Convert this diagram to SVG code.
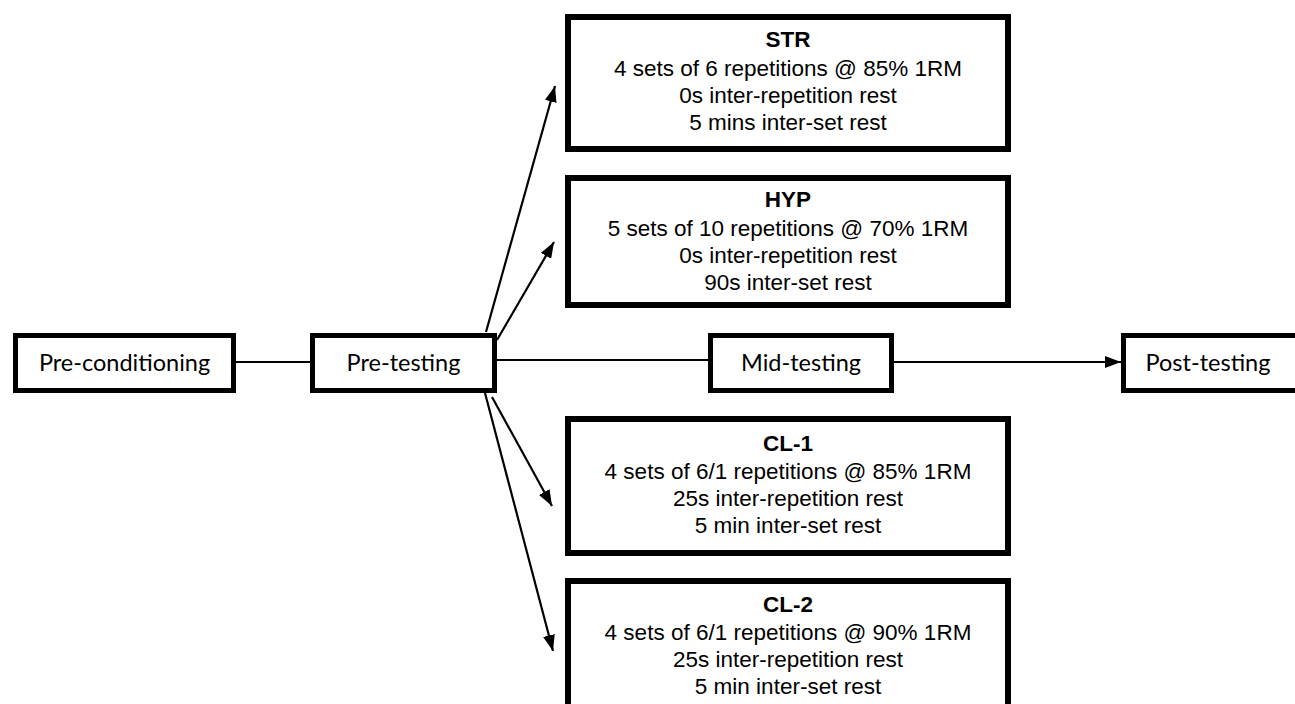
<svg xmlns="http://www.w3.org/2000/svg" width="1295" height="704" viewBox="0 0 1295 704">
<style>
.sbox{fill:#fff;stroke:#000;stroke-width:5}
.bbox{fill:#fff;stroke:#000;stroke-width:6}
.slab{font-family:Lato,"Open Sans",sans-serif;font-size:23.5px;fill:#000;text-anchor:middle}
.btxt{font-family:"Liberation Sans",Arial,sans-serif;font-size:22.5px;fill:#000;text-anchor:middle}
.bt{font-weight:bold}
.ln{stroke:#000;stroke-width:2.2;fill:none}
</style>
<defs>
<marker id="ah" viewBox="0 0 16 12" refX="16" refY="6" markerWidth="16" markerHeight="12" markerUnits="userSpaceOnUse" orient="auto">
<path d="M0,0 L16,6 L0,12 Z" fill="#000"/>
</marker>
</defs>
<rect width="1295" height="704" fill="#fff"/>
<g id="connectors">
<line class="ln" x1="236" y1="362" x2="310" y2="362"/>
<line class="ln" x1="497" y1="360" x2="708" y2="360"/>
<line class="ln" x1="894" y1="362" x2="1121" y2="362" marker-end="url(#ah)"/>
<line class="ln" x1="486" y1="332" x2="555" y2="86" marker-end="url(#ah)"/>
<line class="ln" x1="497" y1="340" x2="554" y2="242" marker-end="url(#ah)"/>
<line class="ln" x1="492" y1="397" x2="552" y2="506" marker-end="url(#ah)"/>
<line class="ln" x1="485" y1="393" x2="553" y2="651" marker-end="url(#ah)"/>
</g>
<g id="pre-conditioning">
<rect class="sbox" x="15.5" y="335.5" width="218" height="55"/>
<text class="slab" x="124.5" y="371">Pre-conditioning</text>
</g>
<g id="pre-testing">
<rect class="sbox" x="312.5" y="335.5" width="182" height="55"/>
<text class="slab" x="403.5" y="371">Pre-testing</text>
</g>
<g id="mid-testing">
<rect class="sbox" x="710.5" y="335.5" width="181" height="55"/>
<text class="slab" x="801" y="371">Mid-testing</text>
</g>
<g id="post-testing">
<rect class="sbox" x="1123.5" y="335.5" width="200" height="55"/>
<text class="slab" x="1208" y="371">Post-testing</text>
</g>
<g id="str">
<rect class="bbox" x="568" y="17" width="440" height="132"/>
<text class="btxt bt" x="788" y="47">STR</text>
<text class="btxt" x="788" y="76">4 sets of 6 repetitions @ 85% 1RM</text>
<text class="btxt" x="788" y="103">0s inter-repetition rest</text>
<text class="btxt" x="788" y="130">5 mins inter-set rest</text>
</g>
<g id="hyp">
<rect class="bbox" x="568" y="178" width="440" height="127"/>
<text class="btxt bt" x="788" y="207">HYP</text>
<text class="btxt" x="788" y="236">5 sets of 10 repetitions @ 70% 1RM</text>
<text class="btxt" x="788" y="263">0s inter-repetition rest</text>
<text class="btxt" x="788" y="290">90s inter-set rest</text>
</g>
<g id="cl-1">
<rect class="bbox" x="568" y="419" width="440" height="134"/>
<text class="btxt bt" x="788" y="451">CL-1</text>
<text class="btxt" x="788" y="479">4 sets of 6/1 repetitions @ 85% 1RM</text>
<text class="btxt" x="788" y="506">25s inter-repetition rest</text>
<text class="btxt" x="788" y="533">5 min inter-set rest</text>
</g>
<g id="cl-2">
<rect class="bbox" x="568" y="581" width="440" height="140"/>
<text class="btxt bt" x="788" y="612">CL-2</text>
<text class="btxt" x="788" y="640">4 sets of 6/1 repetitions @ 90% 1RM</text>
<text class="btxt" x="788" y="667">25s inter-repetition rest</text>
<text class="btxt" x="788" y="694">5 min inter-set rest</text>
</g>
</svg>
